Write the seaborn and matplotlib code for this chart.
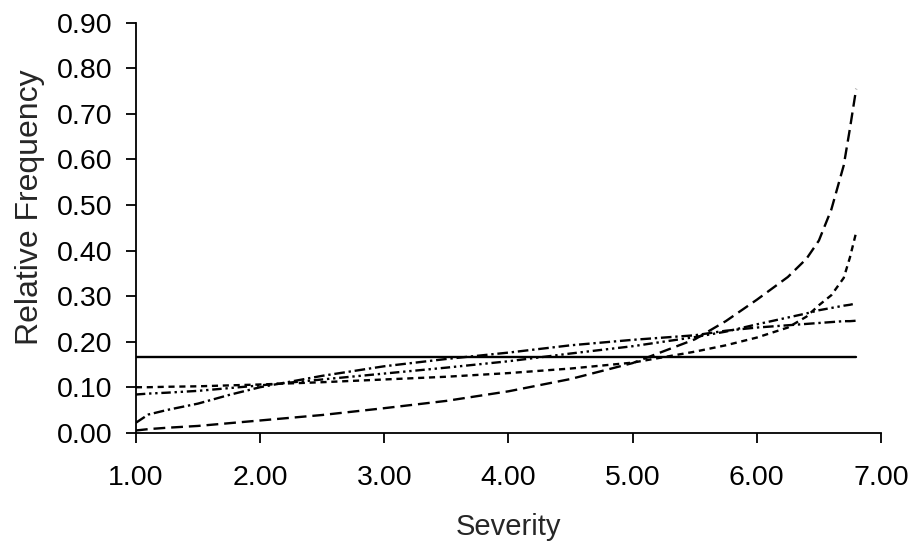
import pandas as pd
import matplotlib
matplotlib.use("Agg")
import matplotlib.pyplot as plt
import seaborn as sns
from matplotlib.ticker import FormatStrFormatter

# values
severity = [1.0, 1.1, 1.25, 1.5, 1.75, 2.0, 2.5, 3.0, 3.5, 4.0, 4.5,
            5.0, 5.5, 5.75, 6.0, 6.25, 6.4, 6.5, 6.6, 6.7, 6.75, 6.8]

uniform = [0.166] * len(severity)

long_dash = [0.005, 0.008, 0.011, 0.015, 0.021, 0.027, 0.039, 0.054, 0.070, 0.091, 0.118,
             0.153, 0.205, 0.245, 0.292, 0.342, 0.382, 0.422, 0.490, 0.587, 0.668, 0.755]

short_dash = [0.100, 0.100, 0.101, 0.102, 0.104, 0.106, 0.111, 0.117, 0.123, 0.131, 0.141,
              0.154, 0.178, 0.192, 0.209, 0.231, 0.255, 0.280, 0.302, 0.340, 0.385, 0.440]

dash_dot = [0.022, 0.040, 0.050, 0.064, 0.083, 0.100, 0.125, 0.146, 0.162, 0.176, 0.192,
            0.204, 0.214, 0.224, 0.231, 0.236, 0.239, 0.241, 0.243, 0.245, 0.245, 0.246]

dash_dot_dot = [0.084, 0.086, 0.088, 0.092, 0.098, 0.104, 0.117, 0.130, 0.143, 0.157, 0.174,
                0.190, 0.210, 0.222, 0.238, 0.253, 0.262, 0.269, 0.274, 0.279, 0.281, 0.284]

series = {
    "uniform": uniform,
    "long_dash": long_dash,
    "short_dash": short_dash,
    "dash_dot": dash_dot,
    "dash_dot_dot": dash_dot_dot,
}

frames = []
for name, vals in series.items():
    frames.append(pd.DataFrame({"Severity": severity, "freq": vals, "series": name}))
df = pd.concat(frames, ignore_index=True)

dash_styles = {
    "uniform": "",
    "long_dash": (5, 2.5),
    "short_dash": (2.6, 2),
    "dash_dot": (4.5, 1.6, 1, 1.6),
    "dash_dot_dot": (4, 1.6, 1, 1.6, 1, 1.6),
}

sns.set_style("ticks")
plt.rcParams["font.family"] = ["Liberation Sans", "DejaVu Sans"]

fig = plt.figure(figsize=(9.12, 5.43), dpi=100)
ax = fig.add_axes([0.149, 0.203, 0.817, 0.755])

sns.lineplot(
    data=df,
    x="Severity",
    y="freq",
    style="series",
    dashes=dash_styles,
    color="black",
    linewidth=1.7,
    legend=False,
    ax=ax,
)

ax.set_xlim(1, 7)
ax.set_ylim(0, 0.9)
ax.set_xticks([1, 2, 3, 4, 5, 6, 7])
ax.set_yticks([i / 10 for i in range(10)])
ax.xaxis.set_major_formatter(FormatStrFormatter("%.2f"))
ax.yaxis.set_major_formatter(FormatStrFormatter("%.2f"))
ax.tick_params(labelsize=20.5, length=7, width=1.3, color="black", labelcolor="black")
ax.tick_params(axis="x", pad=16)
ax.tick_params(axis="y", pad=10)

ax.set_xlabel("Severity", fontsize=21)
ax.set_ylabel("Relative Frequency", fontsize=23)
ax.xaxis.set_label_coords(0.5, -0.195)
ax.yaxis.set_label_coords(-0.122, 0.55)

for side in ["top", "right"]:
    ax.spines[side].set_visible(False)
for side in ["left", "bottom"]:
    ax.spines[side].set_color("black")
    ax.spines[side].set_linewidth(1.3)

plt.savefig("out.png", dpi=100)
plt.close()
